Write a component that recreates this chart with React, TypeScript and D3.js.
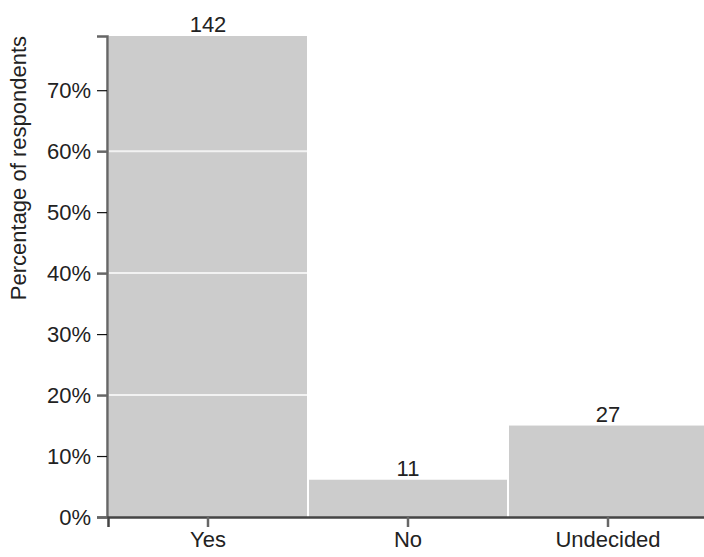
import React, { useEffect, useRef } from "react";
import * as d3 from "d3";

const categories = ["Yes", "No", "Undecided"];
const counts = [142, 11, 27];
const yTickValues = [0, 0.1, 0.2, 0.3, 0.4, 0.5, 0.6, 0.7];
const gridValues = [0.2, 0.4, 0.6];
const yAxisLabel = "Percentage of respondents";

const W = 704;
const H = 557;
const FONT = "'Liberation Sans', Arial, sans-serif";

export default function App() {
  const ref = useRef<SVGSVGElement>(null);

  useEffect(() => {
    const svg = d3.select(ref.current);
    svg.selectAll("*").remove();
    const total = d3.sum(counts);
    const data = categories.map((c, i) => ({ cat: c, n: counts[i], p: counts[i] / total }));

    const left = 107;
    const top = 36;
    const bottom = 517;

    const x = d3.scaleBand<string>().domain(categories).range([108, 708]).padding(0);
    const y = d3.scaleLinear().domain([0, d3.max(data, (d) => d.p) as number]).range([bottom, top]);

    // bars
    svg
      .append("g")
      .selectAll("rect")
      .data(data)
      .join("rect")
      .attr("x", (d) => (x(d.cat) as number) + 1)
      .attr("width", x.bandwidth() - 2)
      .attr("y", (d) => y(d.p))
      .attr("height", (d) => bottom - y(d.p))
      .attr("fill", "#cccccc");

    // white grid lines
    svg
      .append("g")
      .selectAll("line")
      .data(gridValues)
      .join("line")
      .attr("x1", left + 1)
      .attr("x2", W)
      .attr("y1", (d) => y(d))
      .attr("y2", (d) => y(d))
      .attr("stroke", "#ffffff")
      .attr("stroke-opacity", 0.75)
      .attr("stroke-width", 2);

    // value labels
    svg
      .append("g")
      .selectAll("text")
      .data(data)
      .join("text")
      .attr("x", (d) => (x(d.cat) as number) + x.bandwidth() / 2)
      .attr("y", (d) => y(d.p) - 4)
      .attr("text-anchor", "middle")
      .attr("font-family", FONT)
      .attr("font-size", 22)
      .attr("fill", "#222")
      .text((d) => String(d.n));

    // y axis
    const yAxis = d3
      .axisLeft(y)
      .tickValues(yTickValues)
      .tickFormat(d3.format(".0%"))
      .tickSize(10)
      .tickPadding(6);
    const gy = svg.append("g").attr("transform", `translate(${left},0)`).call(yAxis);
    gy.attr("font-size", 22).attr("font-family", FONT);
    gy.select(".domain").attr("stroke", "#666").attr("stroke-width", 2.5);
    gy.selectAll(".tick line")
      .attr("stroke", (d: any) => (gridValues.some((g) => Math.abs(g - d) < 1e-9) || d === 0 ? "#666" : "#111"))
      .attr("stroke-width", (d: any) => (gridValues.some((g) => Math.abs(g - d) < 1e-9) || d === 0 ? 2.5 : 1.2));
    gy.selectAll(".tick text").attr("fill", "#222");

    // x axis
    const xAxis = d3.axisBottom(x).tickSize(10).tickPadding(4);
    const gx = svg.append("g").attr("transform", `translate(0,${bottom})`).call(xAxis);
    gx.attr("font-size", 22).attr("font-family", FONT);
    gx.select(".domain").attr("stroke", "#444").attr("stroke-width", 2.5);
    gx.selectAll(".tick line").attr("stroke", "#666").attr("stroke-width", 2.5);
    gx.selectAll(".tick text").attr("fill", "#222");

    // y label
    svg
      .append("text")
      .attr("transform", "rotate(-90)")
      .attr("x", -top)
      .attr("y", 26)
      .attr("text-anchor", "end")
      .attr("font-family", FONT)
      .attr("font-size", 22)
      .attr("fill", "#222")
      .text(yAxisLabel);
  }, []);

  return (
    <div style={{ position: "absolute", left: 0, top: 0 }}>
      <svg ref={ref} width={W} height={H} style={{ display: "block", background: "#fff" }} />
    </div>
  );
}
